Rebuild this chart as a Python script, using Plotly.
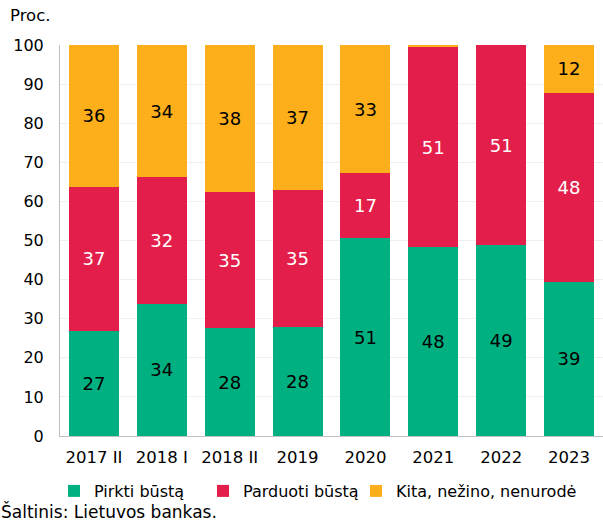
import plotly.graph_objects as go

categories = ["2017 II", "2018 I", "2018 II", "2019", "2020", "2021", "2022", "2023"]
pirkti = [26.9, 33.8, 27.6, 27.9, 50.6, 48.4, 48.8, 39.4]
parduoti = [36.8, 32.4, 34.8, 35.0, 16.6, 51.0, 51.2, 48.4]
kita = [36.3, 33.8, 37.6, 37.1, 32.8, 0.6, 0.0, 12.2]

series = [
    ("Pirkti būstą", pirkti, "#00B080", "black"),
    ("Parduoti būstą", parduoti, "#E31E4A", "white"),
    ("Kita, nežino, nenurodė", kita, "#FCAF1B", "black"),
]

FONT = "DejaVu Sans"
W, H = 603, 521
ML, MR, MT, MB = 60, 0, 45, 85
PW, PH = W - ML - MR, H - MT - MB


def px_x(px):
    return (px - ML) / PW


def px_y(py):
    return (H - MB - py) / PH


legend_ids = ["legend", "legend2", "legend3"]
legend_px = [54, 203, 356]

fig = go.Figure()
for (name, vals, color, tcolor), lid in zip(series, legend_ids):
    labels = [f"{round(v):d}" if v >= 5 else "" for v in vals]
    fig.add_trace(go.Bar(
        x=categories, y=vals, name=name, legend=lid,
        marker=dict(color=color, line=dict(width=0)),
        text=labels, textposition="inside", insidetextanchor="middle",
        textangle=0,
        textfont=dict(family=FONT, size=18, color=tcolor),
        constraintext="none",
        hoverinfo="skip",
    ))

legend_common = dict(orientation="h", xanchor="left", y=px_y(491), yanchor="middle",
                     font=dict(family=FONT, size=16, color="black"),
                     itemwidth=30, bgcolor="rgba(0,0,0,0)")

fig.update_layout(
    barmode="stack",
    bargap=0.265,
    width=W, height=H,
    margin=dict(l=ML, r=MR, t=MT, b=MB, pad=0),
    paper_bgcolor="white", plot_bgcolor="white",
    font=dict(family=FONT, size=16, color="black"),
    showlegend=True,
    legend=dict(x=px_x(legend_px[0]), **legend_common),
    legend2=dict(x=px_x(legend_px[1]), **legend_common),
    legend3=dict(x=px_x(legend_px[2]), **legend_common),
    xaxis=dict(showline=True, linecolor="#BFBFBF", linewidth=1, ticks="", automargin=False,
               ticklabelstandoff=6,
               tickfont=dict(family=FONT, size=16.5, color="black"), fixedrange=True),
    yaxis=dict(range=[0, 100], dtick=10, showline=True, linecolor="#BFBFBF", linewidth=1,
               showgrid=True, gridcolor="#EFEFEF", gridwidth=1, zeroline=False, automargin=False,
               ticks="", ticklabelstandoff=12, fixedrange=True,
               tickfont=dict(family=FONT, size=16, color="black")),
    annotations=[
        dict(text="Proc.", x=px_x(8), y=px_y(16), xref="paper", yref="paper", showarrow=False,
             xanchor="left", yanchor="middle", font=dict(family=FONT, size=16.5)),
        dict(text="Šaltinis: Lietuvos bankas.", x=px_x(-1), y=px_y(511), xref="paper", yref="paper",
             showarrow=False, xanchor="left", yanchor="middle", font=dict(family=FONT, size=17)),
    ],
)

fig.write_html("out.html", config={"displayModeBar": False},
               post_script="document.body.style.margin='0';")
